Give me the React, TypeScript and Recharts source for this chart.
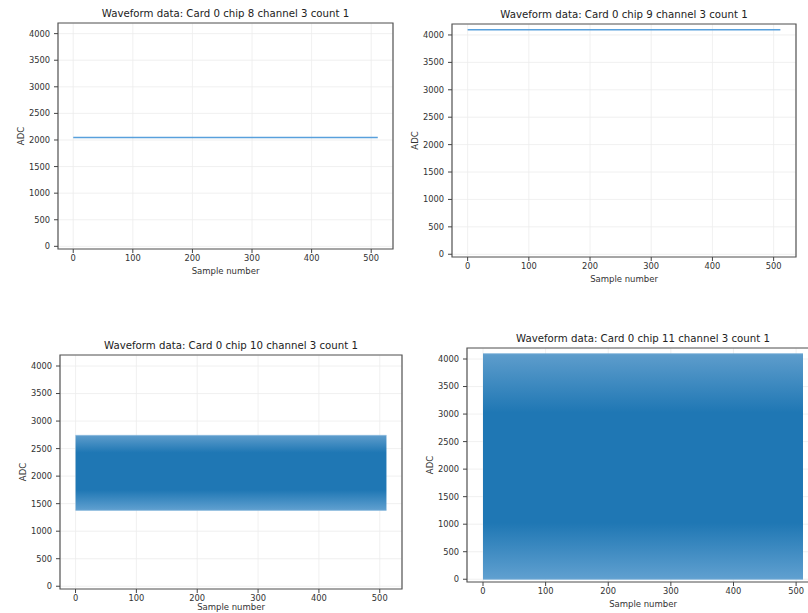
import {
  ComposedChart,
  Line,
  Area,
  XAxis,
  YAxis,
  CartesianGrid,
  ReferenceArea,
} from "recharts";

// sample axis: the waveforms run from sample 0 to 511
const sampleRange = [0, 511];

// chip 8 and chip 9: a single flat trace
const chip8Adc = [2048, 2048];
const chip9Adc = [4095, 4095];

// chip 10 and chip 11: overlaid traces fill a band (low / high edge)
const chip10Low = [1380, 1380];
const chip10High = [2740, 2740];
const chip11Low = [0, 0];
const chip11High = [4095, 4095];

const xTicks = [0, 100, 200, 300, 400, 500];
const yTicks = [0, 500, 1000, 1500, 2000, 2500, 3000, 3500, 4000];
const xDomain: [number, number] = [-25.55, 536.55];
const yDomain: [number, number] = [-50, 4200];

const titles = [
  "Waveform data: Card 0 chip 8 channel 3 count 1",
  "Waveform data: Card 0 chip 9 channel 3 count 1",
  "Waveform data: Card 0 chip 10 channel 3 count 1",
  "Waveform data: Card 0 chip 11 channel 3 count 1",
];

const lineData = (adc: number[]) =>
  sampleRange.map((s, i) => ({ sample: s, adc: adc[i] }));
const bandData = (low: number[], high: number[]) =>
  sampleRange.map((s, i) => ({ sample: s, band: [low[i], high[i]] }));

const BLUE = "#1f77b4";
const FONT = "'DejaVu Sans', sans-serif";
const ML = 50; // margin.left + y axis width
const MT = 30;
const TICK_FONT = 8.3;

interface Frame {
  left: number;
  top: number;
  width: number;
  height: number;
}

interface PanelProps {
  title: string;
  frame: Frame;
  data: Array<Record<string, unknown>>;
  kind: "line" | "band";
  gradId: string;
  stops?: number[];
  xLabelGap?: number;
}

function AdcLabel(props: any) {
  const { x, y, width, height } = props.viewBox || {};
  const cx = x + width - 37;
  const cy = y + height / 2;
  return (
    <text
      x={cx}
      y={cy}
      transform={`rotate(-90 ${cx} ${cy})`}
      textAnchor="middle"
      dominantBaseline="central"
      fontSize={8.5}
      fill="#333"
    >
      ADC
    </text>
  );
}

function makeSampleLabel(gap: number) {
  return function SampleLabel(props: any) {
    const { x, y, width } = props.viewBox || {};
    return (
      <text
        x={x + width / 2}
        y={y + gap}
        textAnchor="middle"
        dominantBaseline="central"
        fontSize={8.5}
        fill="#333"
      >
        Sample number
      </text>
    );
  };
}

function Panel({
  title,
  frame,
  data,
  kind,
  gradId,
  stops = [0.25, 0.75],
  xLabelGap = 22,
}: PanelProps) {
  const w = frame.width + ML + 10;
  const h = frame.height + MT + 40;
  const SampleLabel = makeSampleLabel(xLabelGap);
  return (
    <>
      <div
        style={{
          position: "absolute",
          left: frame.left - 20,
          top: frame.top - 15,
          width: frame.width + 40,
          textAlign: "center",
          fontSize: 10.2,
          lineHeight: "12px",
          color: "#222",
          whiteSpace: "nowrap",
        }}
      >
        {title}
      </div>
      <div style={{ position: "absolute", left: frame.left - ML, top: frame.top - MT }}>
        <ComposedChart
          width={w}
          height={h}
          data={data}
          margin={{ top: MT, right: 10, bottom: 0, left: 10 }}
        >
          <defs>
            <linearGradient id={gradId} x1="0" y1="0" x2="0" y2="1">
              <stop offset="0%" stopColor="#5e9dcc" />
              <stop offset={`${stops[0] * 100}%`} stopColor={BLUE} />
              <stop offset={`${stops[1] * 100}%`} stopColor={BLUE} />
              <stop offset="100%" stopColor="#60a0d0" />
            </linearGradient>
          </defs>
          <CartesianGrid stroke="#ececec" strokeWidth={0.8} />
          <XAxis
            type="number"
            dataKey="sample"
            domain={xDomain}
            ticks={xTicks}
            interval={0}
            allowDataOverflow
            height={40}
            tickSize={4}
            tickMargin={2}
            axisLine={false}
            tickLine={{ stroke: "#444" }}
            tick={{ fontSize: TICK_FONT, fill: "#333" }}
            label={<SampleLabel />}
          />
          <YAxis
            type="number"
            domain={yDomain}
            ticks={yTicks}
            interval={0}
            allowDataOverflow
            width={40}
            tickSize={4}
            tickMargin={4}
            axisLine={false}
            tickLine={{ stroke: "#444" }}
            tick={{ fontSize: TICK_FONT, fill: "#333" }}
            label={<AdcLabel />}
          />
          {kind === "band" ? (
            <Area
              type="linear"
              dataKey="band"
              fill={`url(#${gradId})`}
              fillOpacity={1}
              stroke="#78afd8"
              strokeWidth={0.8}
              dot={false}
              activeDot={false}
              isAnimationActive={false}
            />
          ) : (
            <Line
              type="linear"
              dataKey="adc"
              stroke="#58a0dc"
              strokeWidth={1.5}
              dot={false}
              activeDot={false}
              isAnimationActive={false}
            />
          )}
          <ReferenceArea
            x1={xDomain[0]}
            x2={xDomain[1]}
            y1={yDomain[0]}
            y2={yDomain[1]}
            fill="none"
            fillOpacity={0}
            stroke="#555"
            strokeWidth={1.2}
          />
        </ComposedChart>
      </div>
    </>
  );
}

export default function App() {
  return (
    <div
      style={{
        position: "absolute",
        left: 0,
        top: 0,
        width: 808,
        height: 613,
        overflow: "hidden",
        background: "#fff",
        fontFamily: FONT,
      }}
    >
      <Panel
        title={titles[0]}
        frame={{ left: 58, top: 23, width: 335, height: 226 }}
        data={lineData(chip8Adc)}
        kind="line"
        gradId="g8"
      />
      <Panel
        title={titles[1]}
        frame={{ left: 452, top: 24, width: 344, height: 233 }}
        data={lineData(chip9Adc)}
        kind="line"
        gradId="g9"
      />
      <Panel
        title={titles[2]}
        frame={{ left: 60, top: 355, width: 342, height: 234 }}
        data={bandData(chip10Low, chip10High)}
        kind="band"
        gradId="g10"
        stops={[0.23, 0.73]}
        xLabelGap={18}
      />
      <Panel
        title={titles[3]}
        frame={{ left: 467, top: 348, width: 352, height: 234 }}
        data={bandData(chip11Low, chip11High)}
        kind="band"
        gradId="g11"
        stops={[0.26, 0.75]}
      />
    </div>
  );
}
